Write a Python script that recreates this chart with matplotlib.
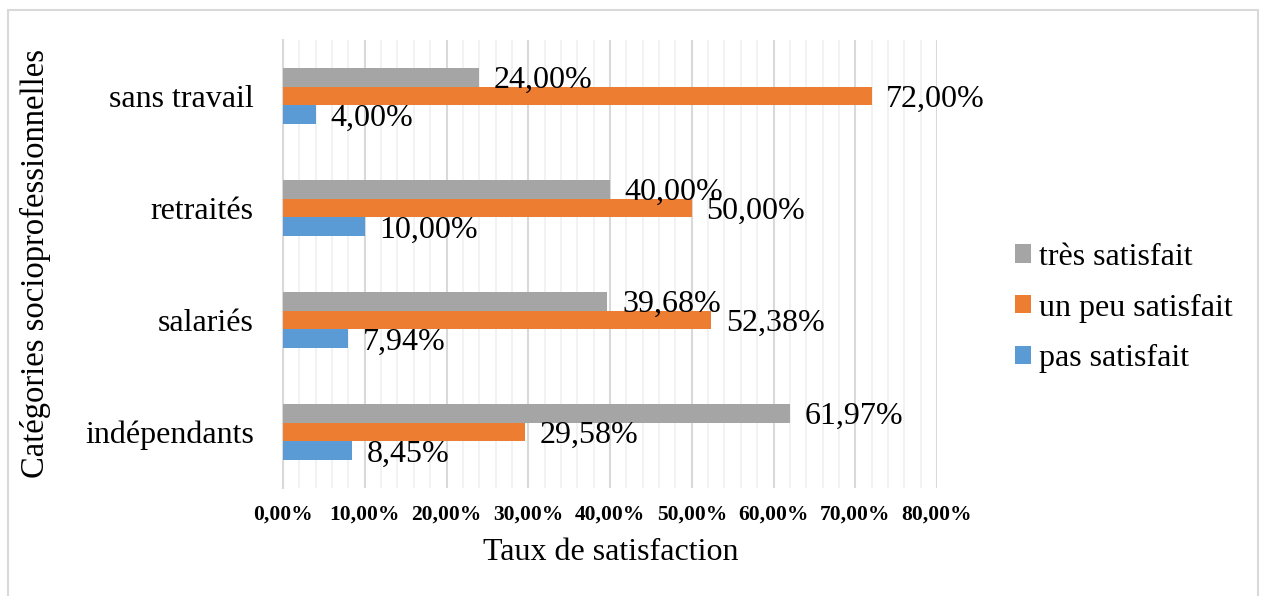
import matplotlib
matplotlib.use("Agg")
import matplotlib.pyplot as plt
from matplotlib.patches import Patch, Rectangle
from matplotlib.ticker import MultipleLocator, FuncFormatter
import numpy as np

categories = ["indépendants", "salariés", "retraités", "sans travail"]
tres_satisfait = [61.97, 39.68, 40.00, 24.00]
peu_satisfait = [29.58, 52.38, 50.00, 72.00]
pas_satisfait = [8.45, 7.94, 10.00, 4.00]
series_names = ["très satisfait", "un peu satisfait", "pas satisfait"]
colors = ["#A5A5A5", "#ED7D31", "#5B9BD5"]

plt.rcParams['font.family'] = ['Liberation Serif', 'DejaVu Serif']

W, H = 1261, 596
FS = 23
fig = plt.figure(figsize=(W / 100, H / 100), dpi=100)
ax = fig.add_axes([283 / W, 1 - 488 / H, (937 - 283) / W, (488 - 40) / H])

y = np.arange(len(categories))
bh = 1 / 6
series = [tres_satisfait, peu_satisfait, pas_satisfait]
offsets = [bh, 0, -bh]
for vals, off, col in zip(series, offsets, colors):
    bars = ax.barh(y + off, vals, height=bh, color=col, zorder=3)
    for b, v in zip(bars, vals):
        ax.annotate(f"{v:.2f}%".replace('.', ','),
                    xy=(v, b.get_y() + b.get_height() / 2),
                    xytext=(10.5, -2.5), textcoords='offset points',
                    ha='left', va='center', fontsize=FS, color='black', zorder=5)

ax.set_xlim(0, 80)
ax.set_ylim(-0.5, 3.5)
ax.xaxis.set_major_locator(MultipleLocator(10))
ax.xaxis.set_minor_locator(MultipleLocator(2))
ax.xaxis.set_major_formatter(FuncFormatter(lambda v, p: f"{v:.2f}%".replace('.', ',')))
ax.grid(axis='x', which='major', color='#D9D9D9', lw=1.5, zorder=0)
ax.grid(axis='x', which='minor', color='#F0F0F0', lw=1.2, zorder=0)
ax.set_yticks(y)
ax.set_yticklabels(categories, fontsize=FS)
ax.tick_params(axis='y', length=0, pad=21)
ax.tick_params(axis='x', which='both', length=0, pad=12, labelsize=15.5)
for lab in ax.get_xticklabels():
    lab.set_fontweight('bold')
for s in ['top', 'right', 'bottom']:
    ax.spines[s].set_visible(False)
ax.spines['left'].set_color('#D9D9D9')
ax.spines['left'].set_linewidth(1.5)

fig.text(611 / W, 1 - 553 / H, "Taux de satisfaction", ha='center', va='center', fontsize=FS)
fig.text(35 / W, 1 - 264 / H, "Catégories socioprofessionnelles", ha='center', va='center',
         rotation=90, fontsize=FS + 0.5)

handles = [Patch(facecolor=c, edgecolor='none') for c in colors]
fig.legend(handles, series_names, loc='center left', bbox_to_anchor=(1015 / W, 1 - 308 / H),
           frameon=False, fontsize=FS, handlelength=0.5, handleheight=0.5,
           handletextpad=0.26, labelspacing=0.68, borderpad=0, borderaxespad=0)

fig.patches.append(Rectangle((7.5 / W, -0.1), (1257.5 - 7.5) / W, 1.1 - 10.5 / H,
                             transform=fig.transFigure, fill=False, edgecolor='#D9D9D9', lw=1.5))

fig.savefig("out.png", dpi=100, facecolor='white')
